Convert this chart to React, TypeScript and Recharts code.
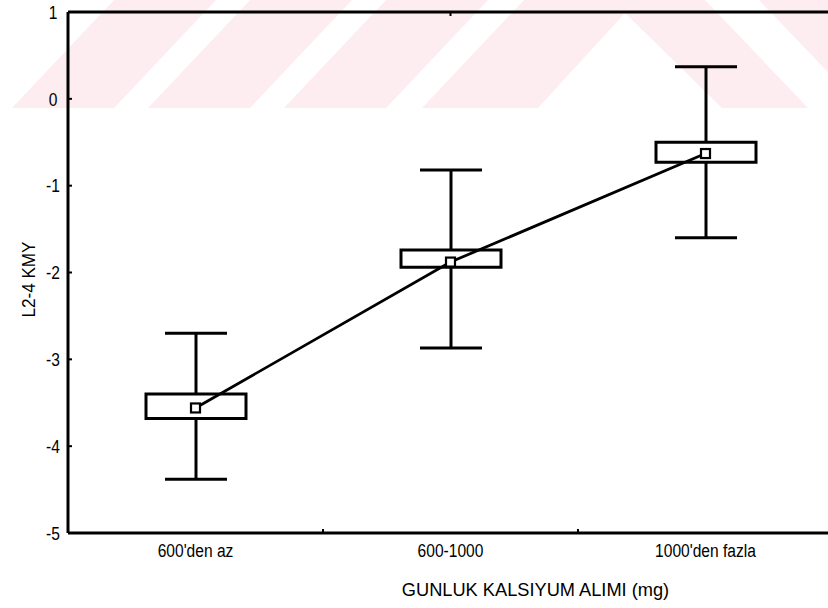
import React from 'react';
import { ComposedChart, Bar, Line, XAxis, YAxis, Label } from 'recharts';

// Daily calcium intake groups and L2-4 BMD z-score summary per group
const groups = ["600'den az", '600-1000', "1000'den fazla"];
const groupPos = [0.5, 1.5, 2.5];
const means = [-3.56, -1.88, -0.63];
const boxLow = [-3.68, -1.94, -0.73];
const boxHigh = [-3.4, -1.74, -0.5];
const whiskerLow = [-4.38, -2.87, -1.6];
const whiskerHigh = [-2.7, -0.82, 0.37];

const yTicks = [-5, -4, -3, -2, -1, 0, 1];
const xTicks = [0.5, 1, 1.5, 2, 2.5];
const boundaryTicks = [1, 2];

const xTitle = 'GUNLUK KALSIYUM ALIMI (mg)';
const yTitle = 'L2-4 KMY';

const data = groups.map((g, i) => ({
  group: g,
  pos: groupPos[i],
  mean: means[i],
  box: [boxLow[i], boxHigh[i]],
  whisker: [whiskerLow[i], whiskerHigh[i]],
}));

const INK = '#000';
const FONT = '"Liberation Sans", Arial, sans-serif';
const FONT_SIZE = 19;
const TICK_SQUEEZE = 0.82; // condensed look for tick labels
const X_TITLE_SQUEEZE = 0.96;
const Y_TITLE_SQUEEZE = 0.9;
const TICK_MARGIN_X = 9;

// Text drawn with a horizontal squeeze to mimic a narrow typeface
const NarrowText = ({ x, y, squeeze, anchor = 'middle', rotate = 0, children }: any) => (
  <text
    transform={`translate(${x} ${y}) rotate(${rotate}) scale(${squeeze} 1)`}
    x={0}
    y={0}
    textAnchor={anchor}
    fontSize={FONT_SIZE}
    fontFamily={FONT}
    fill={INK}
  >
    {children}
  </text>
);

// Stem plus end caps spanning the whisker range
const WhiskerShape = (props: any) => {
  const { x, y, width, height } = props;
  if (x == null || y == null) return null;
  const cx = x + width / 2;
  const top = Math.min(y, y + height);
  const bottom = Math.max(y, y + height);
  const half = 31;
  return (
    <g stroke={INK} strokeWidth={3} fill="none">
      <line x1={cx} y1={top} x2={cx} y2={bottom} />
      <line x1={cx - half} y1={top} x2={cx + half} y2={top} />
      <line x1={cx - half} y1={bottom} x2={cx + half} y2={bottom} />
    </g>
  );
};

const MeanDot = (props: any) => {
  const { cx, cy, index } = props;
  if (cx == null || cy == null) return <g key={`d-${index}`} />;
  return (
    <rect
      key={`d-${index}`}
      x={cx - 4.5}
      y={cy - 4.5}
      width={9}
      height={9}
      fill="#fff"
      stroke={INK}
      strokeWidth={2.2}
    />
  );
};

// Bottom axis: group names at band centres, short inward marks at band edges
const XTick = (props: any) => {
  const { x, y, payload } = props;
  const v = payload.value;
  const axisY = y - TICK_MARGIN_X;
  if (Number.isInteger(v)) {
    return <line x1={x} y1={axisY} x2={x} y2={axisY - 4} stroke={INK} strokeWidth={2} />;
  }
  const idx = groupPos.indexOf(v);
  return (
    <NarrowText x={x} y={y + 15} squeeze={TICK_SQUEEZE}>
      {idx >= 0 ? groups[idx] : ''}
    </NarrowText>
  );
};

const YTick = (props: any) => {
  const { x, y, payload } = props;
  return (
    <NarrowText x={x} y={y + 6.7} squeeze={TICK_SQUEEZE}>
      {payload.value}
    </NarrowText>
  );
};

const XTitle = (props: any) => {
  const vb = props.viewBox || {};
  const cx = vb.x + vb.width / 2 + 85;
  const by = vb.y + vb.height - 12;
  return (
    <NarrowText x={cx} y={by} squeeze={X_TITLE_SQUEEZE}>
      {xTitle}
    </NarrowText>
  );
};

const YTitle = (props: any) => {
  const vb = props.viewBox || {};
  const cy = vb.y + vb.height / 2 + 7;
  return (
    <NarrowText x={vb.x + 35} y={cy} squeeze={Y_TITLE_SQUEEZE} rotate={-90}>
      {yTitle}
    </NarrowText>
  );
};

// Faint diagonal stripe band across the top of the page
const stripes: string[] = [
  '12,108 114,108 216,0 114,0',
  '148,108 250,108 352,0 250,0',
  '284,108 386,108 488,0 386,0',
  '422,108 524,0 705,0 808,108 722,108 625,13 538,108',
  '759,0 900,0 1003,108 862,108',
];

export default function App() {
  return (
    <div
      style={{
        position: 'absolute',
        left: 0,
        top: 0,
        width: 828,
        height: 608,
        overflow: 'hidden',
        background: '#fff',
        fontFamily: FONT,
      }}
    >
      <svg width={828} height={608} style={{ position: 'absolute', left: 0, top: 0 }}>
        {stripes.map((p, i) => (
          <polygon key={i} points={p} fill="#fdedf0" />
        ))}
      </svg>
      <div style={{ position: 'absolute', left: 0, top: 0 }}>
        <ComposedChart
          width={845}
          height={608}
          data={data}
          margin={{ top: 2, right: 12, bottom: 0, left: 0 }}
        >
          <XAxis
            xAxisId="main"
            dataKey="pos"
            type="number"
            domain={[0, 3]}
            ticks={xTicks}
            interval={0}
            tickLine={false}
            tickSize={0}
            tickMargin={TICK_MARGIN_X}
            axisLine={{ stroke: INK, strokeWidth: 3 }}
            tick={<XTick />}
            height={75}
          >
            <Label content={<XTitle />} />
          </XAxis>
          <XAxis xAxisId="whisk" dataKey="pos" type="number" domain={[0, 3]} hide />
          <XAxis
            xAxisId="top"
            orientation="top"
            type="number"
            domain={[0, 3]}
            ticks={boundaryTicks}
            interval={0}
            tickSize={-4}
            tickFormatter={() => ''}
            tickLine={{ stroke: INK, strokeWidth: 2 }}
            axisLine={{ stroke: INK, strokeWidth: 3 }}
            height={10}
          />
          <YAxis
            type="number"
            domain={[-5, 1]}
            ticks={yTicks}
            interval={0}
            tickSize={-4}
            tickMargin={19}
            tickLine={{ stroke: INK, strokeWidth: 2 }}
            axisLine={{ stroke: INK, strokeWidth: 3 }}
            tick={<YTick />}
            width={68}
          >
            <Label content={<YTitle />} />
          </YAxis>
          <Bar
            xAxisId="whisk"
            dataKey="whisker"
            barSize={4}
            shape={<WhiskerShape />}
            isAnimationActive={false}
          />
          <Bar
            xAxisId="main"
            dataKey="box"
            barSize={100}
            fill="#fff"
            stroke={INK}
            strokeWidth={3}
            isAnimationActive={false}
          />
          <Line
            xAxisId="main"
            dataKey="mean"
            stroke={INK}
            strokeWidth={2.8}
            dot={MeanDot}
            activeDot={false}
            isAnimationActive={false}
          />
        </ComposedChart>
      </div>
    </div>
  );
}
